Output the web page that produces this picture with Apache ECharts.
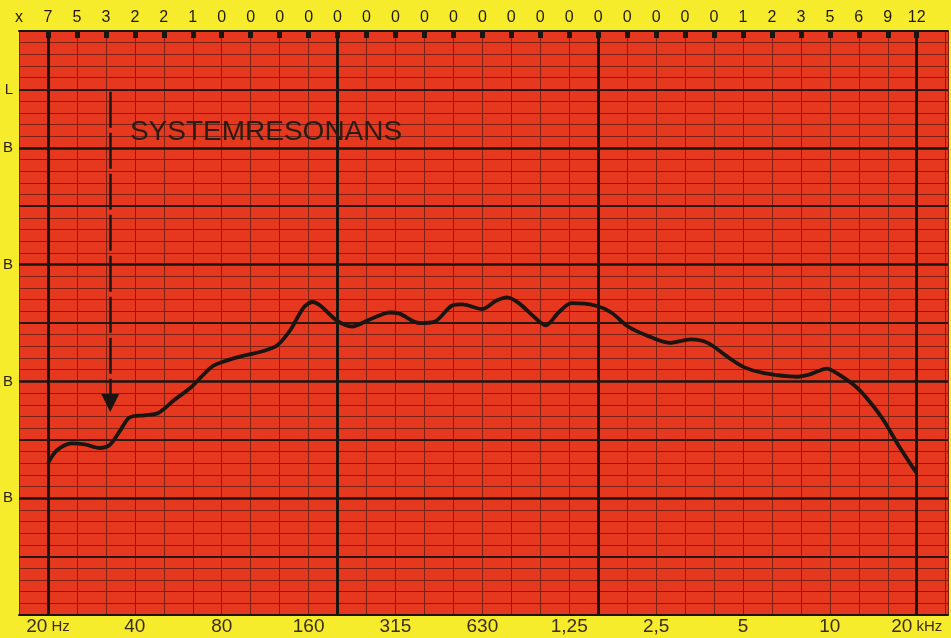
<!DOCTYPE html>
<html>
<head>
<meta charset="utf-8">
<style>
html, body { margin: 0; padding: 0; background: #f7ec2c; }
#chart { width: 951px; height: 638px; }
</style>
</head>
<body>
<div id="chart"></div>
<script src="https://cdn.jsdelivr.net/npm/echarts@6/dist/echarts.min.js"></script>
<script>
// third-octave bands, 20 Hz (band 0) .. 20 kHz (band 30)
const topNumbers = ['7', '5', '3', '2', '2', '1',
  '0', '0', '0', '0', '0', '0', '0', '0', '0', '0', '0', '0', '0', '0', '0', '0', '0', '0',
  '1', '2', '3', '5', '6', '9', '12']
const octaveBands = [0, 3, 6, 9, 12, 15, 18, 21, 24, 27, 30]
const octaveNames = ['20', '40', '80', '160', '315', '630', '1,25', '2,5', '5', '10', '20']
const levelTicks = [45, 40, 30, 20, 10]
const levelNames = ['L', 'B', 'B', 'B', 'B']
const heavyBands = [0, 10, 19, 30]
const majorLevels = [10, 20, 30, 40]
const minorLevels = [5, 15, 25, 35, 45]

// response curve (band position, dB)
const curveBand = [0, 0.31, 0.82, 1.27, 1.78, 2.13, 2.47, 2.81, 3.33, 3.81,
  4.36, 4.94, 5.63, 6.07, 6.76, 7.44, 7.92, 8.37, 8.82, 9.13,
  9.40, 9.98, 10.50, 11.11, 11.80, 12.14, 12.83, 13.34, 13.96, 14.31,
  14.99, 15.47, 15.85, 16.26, 16.84, 17.19, 17.63, 18.08, 18.90, 19.45,
  20.03, 20.62, 21.47, 22.20, 22.78, 23.47, 24.05, 24.73, 25.87, 26.31,
  26.90, 27.24, 27.92, 28.40, 28.85, 29.40, 29.98]
const curveDb = [13.0, 14.1, 14.7, 14.6, 14.3, 14.55, 15.7, 16.9, 17.1, 17.3,
  18.4, 19.5, 21.2, 21.7, 22.2, 22.6, 23.1, 24.4, 26.3, 26.8,
  26.5, 25.2, 24.7, 25.3, 25.9, 25.8, 25.0, 25.1, 26.5, 26.6,
  26.2, 26.9, 27.2, 26.7, 25.4, 24.8, 25.9, 26.7, 26.5, 25.9,
  24.7, 24.0, 23.3, 23.6, 23.3, 22.1, 21.2, 20.7, 20.4, 20.6,
  21.1, 20.7, 19.5, 18.2, 16.7, 14.4, 12.2]

const annotation = 'SYSTEMRESONANS'
const arrowBand = 2.15
const arrowFrom = 44.8
const arrowTo = 18.15

const ink = '#1b1512'
const thin = '#7c2214'
const red = '#e6381f'

const chart = echarts.init(document.getElementById('chart'))

const bottomLabel = (v) => {
  const k = octaveBands.indexOf(v)
  if (k < 0) return ''
  if (k === 0) return '{n|' + octaveNames[k] + '}{u| Hz}'
  if (k === octaveBands.length - 1) return '{n|' + octaveNames[k] + '}{u| kHz}'
  return '{n|' + octaveNames[k] + '}'
}

const topLabel = (v) => {
  if (v === -1) return 'x'
  return topNumbers[v] !== undefined ? topNumbers[v] : ''
}

const leftLabel = (v) => {
  const k = levelTicks.indexOf(v)
  return k < 0 ? '' : levelNames[k]
}

const gridLines = []
heavyBands.forEach(v => gridLines.push({ xAxis: v, lineStyle: { color: ink, width: 3, type: 'solid' } }))
majorLevels.forEach(v => gridLines.push({ yAxis: v, lineStyle: { color: ink, width: 2.6, type: 'solid' } }))
minorLevels.forEach(v => gridLines.push({ yAxis: v, lineStyle: { color: '#2a1510', width: 2, type: 'solid' } }))

const option = {
  backgroundColor: '#f7ec2c',
  animation: false,
  grid: {
    left: 16,
    right: 0,
    top: 31,
    bottom: 23,
    show: true,
    backgroundColor: red,
    borderWidth: 0
  },
  xAxis: [
    {
      type: 'value',
      position: 'bottom',
      min: -1,
      max: 31.08,
      interval: 1,
      axisLine: { show: true, lineStyle: { color: ink, width: 2 } },
      axisTick: { show: false },
      splitLine: { show: true, lineStyle: { color: thin, width: 1 } },
      axisLabel: {
        margin: 2,
        formatter: bottomLabel,
        rich: {
          n: { fontSize: 19, color: '#3a2c1c', fontFamily: 'Liberation Sans' },
          u: { fontSize: 15, color: '#3a2c1c', fontFamily: 'Liberation Sans' }
        }
      }
    },
    {
      type: 'value',
      position: 'top',
      min: -1,
      max: 31.08,
      interval: 1,
      axisLine: { show: true, lineStyle: { color: ink, width: 2 } },
      axisTick: {
        show: true,
        inside: true,
        length: 7,
        customValues: topNumbers.map((_, i) => i),
        lineStyle: { color: ink, width: 5 }
      },
      splitLine: { show: false },
      axisLabel: {
        margin: 5,
        fontSize: 16,
        color: '#221a12',
        fontFamily: 'Liberation Sans',
        formatter: topLabel
      }
    }
  ],
  yAxis: {
    type: 'value',
    min: 0,
    max: 50,
    interval: 1,
    axisLine: { show: false },
    axisTick: { show: false },
    splitLine: { show: true, lineStyle: { color: thin, width: 1 } },
    axisLabel: {
      margin: 6,
      fontSize: 15,
      color: '#2b2218',
      fontFamily: 'Liberation Sans',
      formatter: leftLabel
    }
  },
  series: [
    {
      name: 'grid',
      type: 'line',
      data: [],
      silent: true,
      z: 1,
      markLine: {
        silent: true,
        symbol: 'none',
        label: { show: false },
        animation: false,
        data: gridLines
      }
    },
    {
      name: 'response',
      type: 'line',
      data: curveBand.map((b, i) => [b, curveDb[i]]),
      smooth: 0.3,
      showSymbol: false,
      silent: true,
      z: 5,
      lineStyle: { color: ink, width: 3.8 },
      markLine: {
        silent: true,
        symbol: ['none', 'triangle'],
        symbolSize: 18,
        label: { show: false },
        lineStyle: { color: ink, width: 2.5, type: [36, 5] },
        itemStyle: { color: ink },
        data: [[{ coord: [arrowBand, arrowFrom] }, { coord: [arrowBand, arrowTo] }]]
      },
      markPoint: {
        silent: true,
        symbol: 'circle',
        symbolSize: 0,
        label: {
          show: true,
          position: 'right',
          distance: 0,
          fontSize: 28,
          color: '#2a1c14',
          fontFamily: 'Liberation Sans',
          formatter: () => annotation
        },
        data: [{ coord: [2.83, 41.3] }]
      }
    }
  ]
}

chart.setOption(option)
</script>
</body>
</html>
